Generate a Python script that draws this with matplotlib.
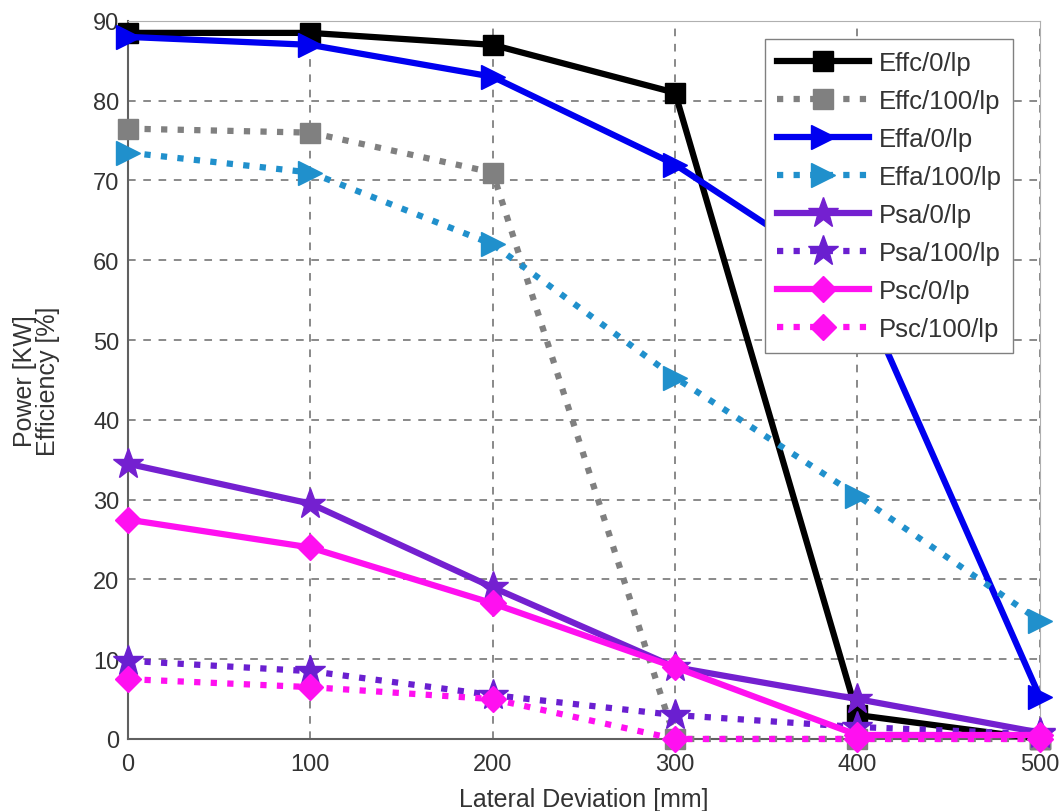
import numpy as np
import matplotlib
matplotlib.use("Agg")
import matplotlib.pyplot as plt

plt.rcParams['font.family'] = ['Liberation Sans', 'DejaVu Sans']

deviation = [0, 100, 200, 300, 400, 500]

effc_0 = [88.5, 88.5, 87, 81, 3, 0]
effc_100 = [76.5, 76, 71, 0, 0, 0]
effa_0 = [88, 87, 83, 72, 57, 5.3]
effa_100 = [73.5, 71, 62, 45.3, 30.5, 14.8]
psa_0 = [34.5, 29.5, 19, 9, 5, 0.8]
psa_100 = [9.8, 8.5, 5.5, 3, 1.5, 0.6]
psc_0 = [27.5, 24, 17, 9, 0.5, 0.5]
psc_100 = [7.5, 6.5, 5, 0, 0, 0]

series = [
    ("Effc/0/lp", effc_0, "black", "-", "s", 15),
    ("Effc/100/lp", effc_100, "#808080", ":", "s", 15),
    ("Effa/0/lp", effa_0, "#0000f0", "-", ">", 17),
    ("Effa/100/lp", effa_100, "#2090cc", ":", ">", 17),
    ("Psa/0/lp", psa_0, "#7420d0", "-", "*", 23),
    ("Psa/100/lp", psa_100, "#6a1fd0", ":", "*", 23),
    ("Psc/0/lp", psc_0, "#ff10f0", "-", "D", 13),
    ("Psc/100/lp", psc_100, "#ff10f0", ":", "D", 13),
]

fig = plt.figure(figsize=(10.61, 8.12), dpi=100)
ax = fig.add_axes([0.1206, 0.0887, 0.8594, 0.8843])

for label, vals, col, ls, mk, ms in series:
    ax.plot(deviation, vals, color=col, linestyle=ls, linewidth=4.5,
            marker=mk, markersize=ms, markerfacecolor=col,
            markeredgecolor=col, label=label, clip_on=False, zorder=3)

ax.set_xlim(0, 500)
ax.set_ylim(0, 90)
ax.set_xticks(deviation)
ax.set_yticks(np.arange(0, 91, 10))
ax.tick_params(labelsize=17, colors="#333333", length=0)
ax.tick_params(axis="x", pad=10)
ax.tick_params(axis="y", pad=6)
ax.grid(True, linestyle=(0, (5, 5)), color="#444444", linewidth=1.1, alpha=0.8)
ax.set_axisbelow(True)
for side in ["top", "right"]:
    ax.spines[side].set_color("#b0b0b0")
for side in ["left", "bottom"]:
    ax.spines[side].set_color("#606060")
    ax.spines[side].set_linewidth(1.5)

ax.set_xlabel("Lateral Deviation [mm]", fontsize=18, color="#333333", labelpad=9)
ax.set_ylabel("Power [KW]\nEfficiency [%]", fontsize=18, color="#333333",
              labelpad=24, linespacing=0.95)

leg = ax.legend(loc="upper right", bbox_to_anchor=(1013 / 1061, 1 - 40 / 812),
                bbox_transform=fig.transFigure, borderaxespad=0,
                fontsize=18.5, handlelength=3.6, labelspacing=0.55,
                borderpad=0.45, handletextpad=0.35,
                fancybox=False, framealpha=1, edgecolor="#808080")
for t in leg.get_texts():
    t.set_color("#333333")

fig.savefig("out.png", dpi=100)
